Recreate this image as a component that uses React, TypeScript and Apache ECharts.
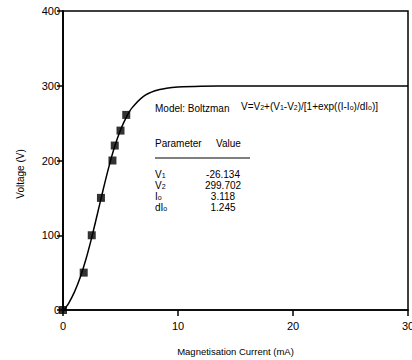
import React, { useEffect, useRef } from "react";
import * as echarts from "echarts";

// Measured data points (Magnetisation Current mA, Voltage V)
const currentData = [0, 1.8, 2.5, 3.3, 4.3, 4.5, 5.0, 5.5];
const voltageData = [0, 50, 100, 150, 200, 220, 240, 261];

// Boltzmann fit curve
const fitCurrent = [0, 0.5, 1, 1.5, 2, 2.5, 3, 3.5, 4, 4.5, 5, 5.5, 6, 7, 8, 9, 10, 12, 15, 20, 30];
const fitVoltage = [-1.5, 9.3, 24.2, 43.7, 68.2, 97.2, 129.1, 161.6, 192.2, 219.0, 240.8, 257.8, 270.4, 285.9, 293.4, 296.8, 298.4, 299.4, 299.7, 299.7, 299.7];

// Fit parameters table
const paramNames = ["V{s|1}", "V{s|2}", "I{s|o}", "dI{s|o}"];
const paramValues = ["-26.134", "299.702", "3.118", "1.245"];

const xTicks = { min: 0, max: 30, interval: 10 };
const yTicks = { min: 0, max: 400, interval: 100 };

const FONT = '"Liberation Sans", Arial, sans-serif';

export default function App() {
  const ref = useRef<HTMLDivElement>(null);
  useEffect(() => {
    document.body.style.margin = "0";
    if (!ref.current) return;
    const chart = echarts.init(ref.current, null, { renderer: "svg" });
    const rich = {
      n: { fontSize: 10, fontFamily: FONT, lineHeight: 15, verticalAlign: "middle", fill: "#000", color: "#000" },
      s: { fontSize: 7, fontFamily: FONT, lineHeight: 8, verticalAlign: "bottom", fill: "#000", color: "#000" },
    };
    const textEl = (x: number, y: number, text: string, align = "left", size = 10, rotation = 0) => ({
      type: "text",
      x,
      y,
      rotation,
      silent: true,
      style: {
        text,
        fontSize: size,
        fontFamily: FONT,
        fill: "#000",
        align,
        verticalAlign: "middle",
        rich,
      },
    });
    const rowsY = [174, 185, 196, 207];
    const graphics: any[] = [
      textEl(155, 108, "Model: Boltzman"),
      textEl(241, 106, "V=V{s|2}+(V{s|1}-V{s|2})/[1+exp((I-I{s|o})/dI{s|o})]"),
      textEl(155, 143, "Parameter"),
      textEl(216, 143, "Value"),
      textEl(20, 174, "Voltage (V)", "center", 10, Math.PI / 2),
      {
        type: "line",
        silent: true,
        shape: { x1: 155, y1: 158, x2: 250, y2: 158 },
        style: { stroke: "#000", lineWidth: 1.2 },
      },
    ];
    paramNames.forEach((p, i) => {
      graphics.push(textEl(155, rowsY[i], p));
      graphics.push(textEl(223, rowsY[i], paramValues[i], "center"));
    });

    chart.setOption({
      animation: false,
      backgroundColor: "#fff",
      grid: {
        left: 63,
        right: 4,
        top: 11,
        bottom: 50,
        containLabel: false,
        outerBoundsMode: "none",
        show: true,
        borderColor: "#000",
        borderWidth: 1.5,
      },
      xAxis: {
        type: "value",
        min: xTicks.min,
        max: xTicks.max,
        interval: xTicks.interval,
        name: "Magnetisation Current (mA)",
        nameLocation: "middle",
        nameGap: 36,
        nameTextStyle: { color: "#000", fontSize: 9.5, fontFamily: FONT },
        axisLine: { show: true, onZero: false, lineStyle: { color: "#000", width: 1.5 } },
        axisTick: { show: true, inside: false, length: 6, lineStyle: { color: "#000", width: 1.5 } },
        axisLabel: { color: "#000", fontSize: 11, fontFamily: FONT, margin: 10, showMaxLabel: true },
        splitLine: { show: false },
      },
      yAxis: {
        type: "value",
        min: yTicks.min,
        max: yTicks.max,
        interval: yTicks.interval,
        axisLine: { show: true, onZero: false, lineStyle: { color: "#000", width: 1.8 } },
        axisTick: { show: true, inside: false, length: 6, lineStyle: { color: "#000", width: 1.5 } },
        axisLabel: { color: "#000", fontSize: 11, fontFamily: FONT, margin: 3 },
        splitLine: { show: false },
      },
      series: [
        {
          type: "line",
          data: fitCurrent.map((x, i) => [x, fitVoltage[i]]),
          smooth: 0.3,
          showSymbol: false,
          symbol: "none",
          lineStyle: { color: "#000", width: 1.5 },
          clip: true,
          z: 2,
        },
        {
          type: "scatter",
          data: currentData.map((x, i) => [x, voltageData[i]]),
          symbol: "rect",
          symbolSize: 8,
          itemStyle: { color: "#000" },
          z: 3,
        },
      ],
      graphic: graphics,
    });
    return () => chart.dispose();
  }, []);
  return <div ref={ref} style={{ width: 412, height: 360 }} />;
}
